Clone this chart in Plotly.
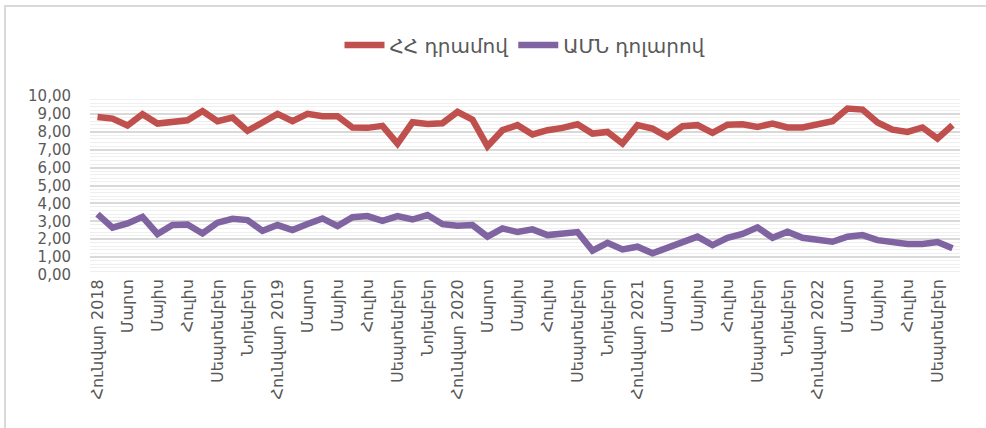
import plotly.graph_objects as go

# Monthly periods, January 2018 – October 2022
periods = [f"{y}-{m:02d}" for y in range(2018, 2023) for m in range(1, 13)][:58]

# Month labels shown on the axis (every second month)
month_names = ["Հունվար", "Փետրվար", "Մարտ", "Ապրիլ", "Մայիս", "Հունիս",
               "Հուլիս", "Օգոստոս", "Սեպտեմբեր", "Հոկտեմբեր", "Նոյեմբեր", "Դեկտեմբեր"]

amd_values = [8.83, 8.74, 8.35, 8.98, 8.46, 8.59, 8.64, 9.16, 8.59, 8.79,
              8.05, 8.52, 9.00, 8.59, 9.00, 8.87, 8.87, 8.24, 8.22, 8.33,
              7.34, 8.53, 8.44, 8.48, 9.11, 8.68, 7.19, 8.09, 8.37, 7.85,
              8.09, 8.22, 8.42, 7.90, 7.99, 7.34, 8.37, 8.18, 7.71, 8.31,
              8.37, 7.94, 8.40, 8.42, 8.27, 8.46, 8.24, 8.24, 8.40, 8.59,
              9.30, 9.24, 8.52, 8.12, 7.99, 8.24, 7.62, 8.37]

usd_values = [3.40, 2.64, 2.88, 3.25, 2.29, 2.79, 2.82, 2.32, 2.92, 3.14,
              3.07, 2.47, 2.79, 2.51, 2.85, 3.16, 2.73, 3.23, 3.29, 3.03,
              3.29, 3.10, 3.35, 2.84, 2.75, 2.79, 2.14, 2.60, 2.40, 2.55,
              2.23, 2.32, 2.40, 1.36, 1.80, 1.43, 1.58, 1.21, 1.49, 1.82,
              2.14, 1.67, 2.08, 2.29, 2.66, 2.08, 2.42, 2.08, 1.95, 1.86,
              2.14, 2.23, 1.95, 1.80, 1.73, 1.73, 1.84, 1.49]

series_names = ["ՀՀ դրամով", "ԱՄՆ դոլարով"]
series_colors = ["#C0504D", "#8064A2"]

tick_vals = periods[::2]
tick_text = []
for p in tick_vals:
    y, m = p.split("-")
    name = month_names[int(m) - 1]
    tick_text.append(f"{name} {y}" if m == "01" else name)

FONT = "DejaVu Sans, Noto Sans, sans-serif"
GREY = "#595959"

fig = go.Figure()
for name, vals, color in zip(series_names, [amd_values, usd_values], series_colors):
    fig.add_trace(go.Scatter(
        x=periods, y=vals, name=name, mode="lines",
        line=dict(color=color, width=6.5, shape="linear"),
    ))

fig.update_layout(
    width=986, height=428,
    margin=dict(l=90, r=26, t=96, b=153),
    paper_bgcolor="white", plot_bgcolor="white",
    separators=", ",
    font=dict(family=FONT, color=GREY),
    showlegend=True,
    legend=dict(orientation="h", x=0.5, xanchor="center", y=1.285, yanchor="middle",
                font=dict(size=20, color=GREY), itemwidth=40,
                traceorder="normal"),
    shapes=[dict(type="rect", xref="paper", yref="paper",
                 x0=-85 / 870, x1=1 + 60 / 870, y0=-200 / 179, y1=1 + 90 / 179,
                 line=dict(color="#d9d9d9", width=2), layer="below")],
)

fig.update_xaxes(
    type="category", categoryorder="array", categoryarray=periods,
    range=[-0.5, len(periods) - 0.5],
    tickmode="array", tickvals=tick_vals, ticktext=tick_text,
    tickangle=-90, tickfont=dict(size=16, color=GREY),
    showgrid=False, showline=False, zeroline=False, ticks="",
)

fig.update_yaxes(
    range=[0, 10], dtick=1, tickformat=".2f",
    tickfont=dict(size=15, color=GREY),
    showgrid=True, gridcolor="#d9d9d9", gridwidth=1.5,
    minor=dict(dtick=0.2, showgrid=True, gridcolor="#efefef", gridwidth=1),
    zeroline=False, showline=False, ticks="", ticklabelstandoff=18,
)

fig.write_html("out.html")
